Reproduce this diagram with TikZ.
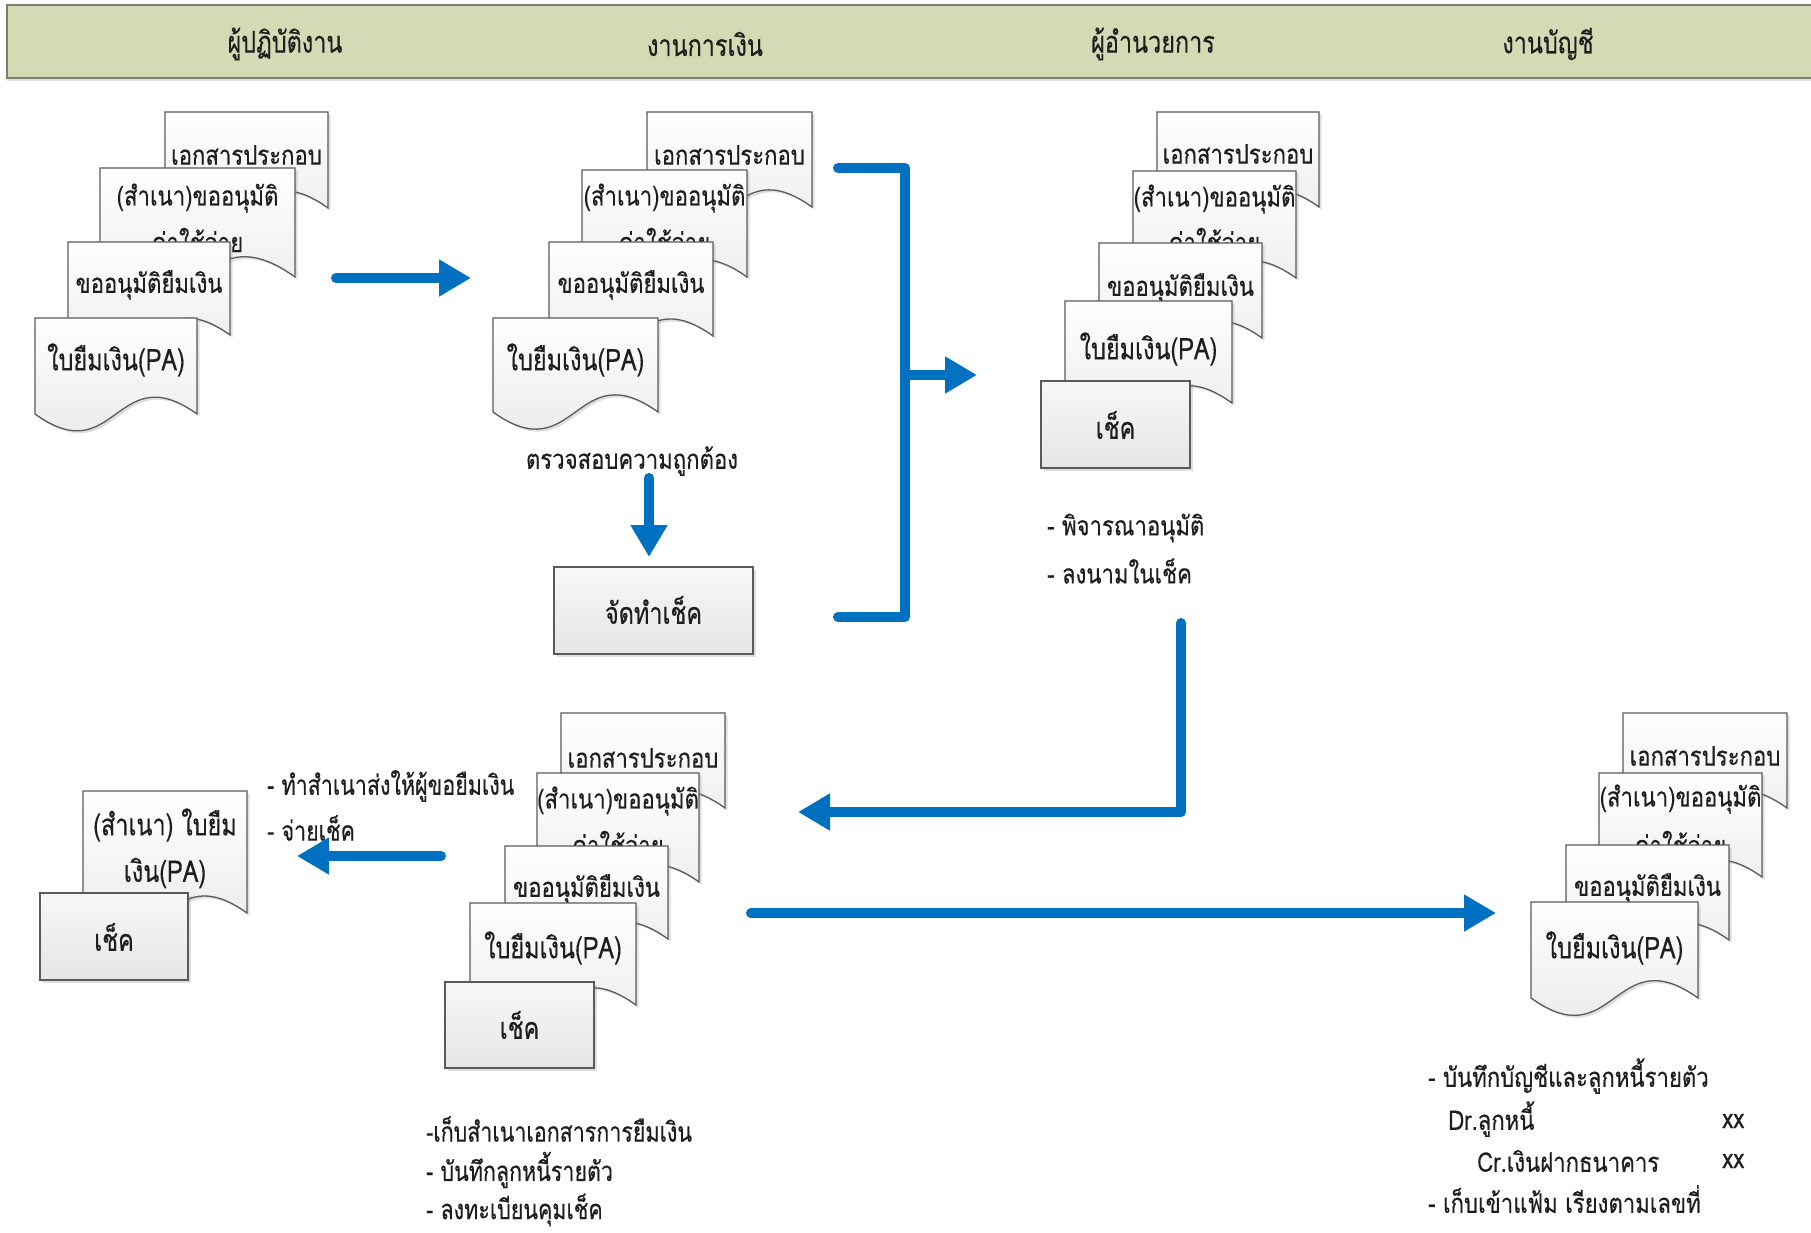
\documentclass[tikz,border=0pt]{standalone}
\usepackage{fontspec}
\newfontfamily\thn[Script=Thai,FakeStretch=0.82,FakeBold=0.4]{Loma}
\newfontfamily\thc[Script=Thai,FakeStretch=0.78,FakeBold=0.4]{Loma}
\usetikzlibrary{arrows.meta,shadows,calc}
\definecolor{hdr}{HTML}{D3DBB4}
\definecolor{hdredge}{HTML}{7A7F70}
\definecolor{flow}{HTML}{0070C0}
\definecolor{edge}{HTML}{5A5A5A}
\definecolor{txt}{HTML}{1E1E1E}
\tikzset{
  docst/.style={draw=edge, line width=1.3pt, top color=white, bottom color=black!10,
    drop shadow={shadow xshift=2.5pt, shadow yshift=-2.5pt, opacity=0.25}},
  boxst/.style={draw=edge, line width=1.3pt, top color=black!3, bottom color=black!10,
    drop shadow={shadow xshift=2.5pt, shadow yshift=-2.5pt, opacity=0.25}},
  hdrst/.style={draw=hdredge, line width=1.5pt, fill=hdr,
    drop shadow={shadow xshift=0pt, shadow yshift=-3pt, opacity=0.25}},
  flowline/.style={draw=flow, line width=10pt, line cap=round, line join=round},
  flowarrow/.style={flowline, -{Triangle[length=32pt,width=35pt]}},
  bodytxt/.style={font=\thn\fontsize{27}{31}\selectfont, text=txt, inner sep=0pt},
  condtxt/.style={font=\thc\fontsize{30}{36}\selectfont, text=txt, inner sep=0pt},
  hdrtxt/.style={font=\thc\fontsize{30}{36}\selectfont, text=txt, inner sep=0pt},
  notetxt/.style={bodytxt, anchor=west},
  condnote/.style={font=\thc\fontsize{27.5}{33}\selectfont, text=txt, inner sep=0pt, anchor=west},
}
\newcommand\docu[4]{%
  \pgfmathsetmacro\dmid{(#1+#3)/2}%
  \pgfmathsetmacro\dk{0.36*(#3-#1)}%
  \pgfmathsetmacro\dup{#4-\dk}%
  \pgfmathsetmacro\ddn{#4+\dk}%
  \path[docst] (#1,#2) -- (#3,#2) -- (#3,#4) .. controls (\dmid,\dup) and (\dmid,\ddn) .. (#1,#4) -- cycle;}
\begin{document}
\begin{tikzpicture}[x=1pt,y=-1pt]
\useasboundingbox (0,0) rectangle (1811,1233);
\clip (0,0) rectangle (1811,1233);
% header
\path[hdrst] (7,5) rectangle (1830,78);
\node[hdrtxt] (h1) at (285,44) {ผู้ปฏิบัติงาน};
\node[hdrtxt] (h2) at (705,44) {งานการเงิน};
\node[hdrtxt] (h3) at (1153,44) {ผู้อำนวยการ};
\node[hdrtxt] (h4) at (1548,44) {งานบัญชี};
% stack A
\docu{165}{112}{328}{208}
\node[bodytxt] (a1) at (246.5,155) {เอกสารประกอบ};
\docu{100}{168}{295}{277}
\node[bodytxt] (a2) at (197.5,198) {(สำเนา)ขออนุมัติ};
\node[bodytxt] (a2b) at (197.5,240) {ค่าใช้จ่าย};
\docu{68}{242}{230}{335}
\node[bodytxt] (a3) at (149,285) {ขออนุมัติยืมเงิน};
\docu{35}{318}{197}{414}
\node[condtxt] (a4) at (116,360) {ใบยืมเงิน(PA)};
% stack B
\docu{647}{112}{812}{207}
\node[bodytxt] (b1) at (729.5,155) {เอกสารประกอบ};
\docu{582}{170}{747}{277}
\node[bodytxt] (b2) at (664.5,198) {(สำเนา)ขออนุมัติ};
\node[bodytxt] (b2b) at (664.5,240) {ค่าใช้จ่าย};
\docu{549}{242}{713}{336}
\node[bodytxt] (b3) at (631,285) {ขออนุมัติยืมเงิน};
\docu{493}{318}{658}{412}
\node[condtxt] (b4) at (575.5,360) {ใบยืมเงิน(PA)};
\node[bodytxt] (chk) at (632,461) {ตรวจสอบความถูกต้อง};
\path[boxst] (554,567) rectangle (753,654);
\node[condtxt] (mk) at (653.5,610) {จัดทำเช็ค};
% stack C
\docu{1157}{112}{1319}{207}
\node[bodytxt] (c1) at (1238,154) {เอกสารประกอบ};
\docu{1133}{171}{1296}{278}
\node[bodytxt] (c2) at (1214.5,199) {(สำเนา)ขออนุมัติ};
\node[bodytxt] (c2b) at (1214.5,240) {ค่าใช้จ่าย};
\docu{1099}{243}{1262}{338}
\node[bodytxt] (c3) at (1180.5,288) {ขออนุมัติยืมเงิน};
\docu{1065}{301}{1232}{403}
\node[condtxt] (c4) at (1148.5,349) {ใบยืมเงิน(PA)};
\path[boxst] (1041,381) rectangle (1190,468);
\node[condtxt] (c5) at (1115.5,425) {เช็ค};
\node[notetxt] (cn1) at (1047,528) {- พิจารณาอนุมัติ};
\node[notetxt] (cn2) at (1047,571) {- ลงนามในเช็ค};
% stack D
\docu{561}{713}{725}{808}
\node[bodytxt] (d1) at (643,758) {เอกสารประกอบ};
\docu{537}{773}{699}{882}
\node[bodytxt] (d2) at (618,801) {(สำเนา)ขออนุมัติ};
\node[bodytxt] (d2b) at (618,843) {ค่าใช้จ่าย};
\docu{505}{846}{668}{939}
\node[bodytxt] (d3) at (586.5,889) {ขออนุมัติยืมเงิน};
\docu{470}{903}{636}{1005}
\node[condtxt] (d4) at (553,948) {ใบยืมเงิน(PA)};
\path[boxst] (445,982) rectangle (594,1068);
\node[condtxt] (d5) at (519.5,1025) {เช็ค};
\node[condnote] (dn1) at (426,1129) {-เก็บสำเนาเอกสารการยืมเงิน};
\node[condnote] (dn2) at (426,1170) {- บันทึกลูกหนี้รายตัว};
\node[condnote] (dn3) at (426,1210) {- ลงทะเบียนคุมเช็ค};
% stack E
\docu{83}{791}{247}{913}
\node[condtxt] (e1) at (165,825) {(สำเนา) ใบยืม};
\node[condtxt] (e1b) at (165,873) {เงิน(PA)};
\path[boxst] (40,893) rectangle (188,980);
\node[condtxt] (e2) at (114,937) {เช็ค};
\node[condnote] (en1) at (267,786) {- ทำสำเนาส่งให้ผู้ขอยืมเงิน};
\node[condnote] (en2) at (267,828) {- จ่ายเช็ค};
% stack F
\docu{1623}{713}{1787}{808}
\node[bodytxt] (f1) at (1705,756) {เอกสารประกอบ};
\docu{1599}{773}{1762}{877}
\node[bodytxt] (f2) at (1680.5,799) {(สำเนา)ขออนุมัติ};
\node[bodytxt] (f2b) at (1680.5,843) {ค่าใช้จ่าย};
\docu{1566}{845}{1729}{940}
\node[bodytxt] (f3) at (1647.5,888) {ขออนุมัติยืมเงิน};
\docu{1531}{902}{1698}{998}
\node[condtxt] (f4) at (1614.5,948) {ใบยืมเงิน(PA)};
\node[notetxt] (fn1) at (1428,1076) {- บันทึกบัญชีและลูกหนี้รายตัว};
\node[notetxt] (fn2) at (1448,1119) {Dr.ลูกหนี้};
\node[notetxt] (fx1) at (1722,1121) {xx};
\node[notetxt] (fn3) at (1477,1161) {Cr.เงินฝากธนาคาร};
\node[notetxt] (fx2) at (1722,1161) {xx};
\node[notetxt] (fn4) at (1428,1199) {- เก็บเข้าแฟ้ม เรียงตามเลขที่};
% connectors
\coordinate (ab0) at (336,278); \coordinate (ab1) at (471,278);
\draw[flowarrow] (ab0) -- (ab1);
\coordinate (dn0) at (649,478); \coordinate (dn1) at (649,557);
\draw[flowarrow] (dn0) -- (dn1);
\coordinate (br0) at (838,168); \coordinate (br1) at (905,168);
\coordinate (br2) at (905,617); \coordinate (br3) at (838,617);
\draw[flowline] (br0) -- (br1) -- (br2) -- (br3);
\coordinate (bm) at (905,375); \coordinate (bt) at (977,375);
\draw[flowarrow] (bm) -- (bt);
\coordinate (cd0) at (1181,623); \coordinate (cd1) at (1181,812); \coordinate (cd2) at (798,812);
\draw[flowarrow] (cd0) -- (cd1) -- (cd2);
\coordinate (le0) at (441,856); \coordinate (le1) at (297,856);
\draw[flowarrow] (le0) -- (le1);
\coordinate (lr0) at (751,913); \coordinate (lr1) at (1496,913);
\draw[flowarrow] (lr0) -- (lr1);
\end{tikzpicture}
\end{document}
